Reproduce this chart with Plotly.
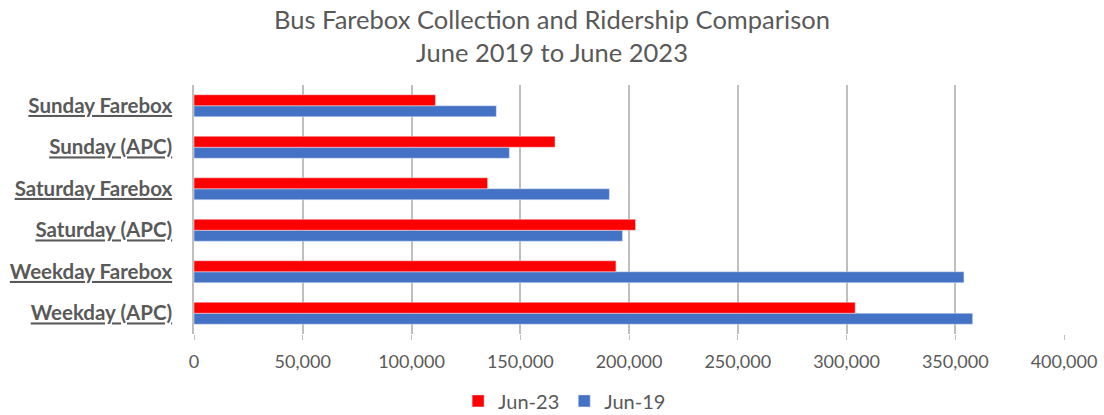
import plotly.graph_objects as go

categories = ["Weekday (APC)", "Weekday Farebox", "Saturday (APC)",
              "Saturday Farebox", "Sunday (APC)", "Sunday Farebox"]
jun23 = [304000, 194000, 203000, 135000, 166000, 111000]
jun19 = [358000, 354000, 197000, 191000, 145000, 139000]
x_ticks = [0, 50000, 100000, 150000, 200000, 250000, 300000, 350000, 400000]
x_tick_labels = ["0", "50,000", "100,000", "150,000", "200,000",
                 "250,000", "300,000", "350,000", "400,000"]

FONT = "Lato, Open Sans, sans-serif"
GRAY = "#595959"

fig = go.Figure()
fig.add_trace(go.Bar(y=categories, x=jun19, orientation="h", name="Jun-19",
                     marker=dict(color="#4472C4"), legendrank=2))
fig.add_trace(go.Bar(y=categories, x=jun23, orientation="h", name="Jun-23",
                     marker=dict(color="#FF0000"), legendrank=1))

fig.update_layout(
    width=1104, height=415,
    margin=dict(l=194, r=40, t=85, b=81, autoexpand=False),
    paper_bgcolor="white", plot_bgcolor="white",
    barmode="group", bargap=0.47, bargroupgap=0,
    font=dict(family=FONT, color=GRAY),
    title=dict(text="Bus Farebox Collection and Ridership Comparison<br>June 2019 to June 2023",
               x=0.5, xref="container", xanchor="center",
               y=0.93, yref="container", yanchor="middle",
               font=dict(family=FONT, size=25.5, color=GRAY)),
    legend=dict(orientation="h", x=0.426, xanchor="center", xref="paper",
                y=0.034, yref="container", yanchor="middle",
                font=dict(family=FONT, size=20, color=GRAY),
                itemwidth=30, traceorder="normal"),
    showlegend=True,
)
fig.update_xaxes(range=[0, 400000], tickvals=x_ticks, ticktext=x_tick_labels,
                 showgrid=True, gridcolor="#BFBFBF", gridwidth=1.5,
                 zeroline=False, showline=False, tickangle=0,
                 ticks="outside", ticklen=5, tickcolor="#BFBFBF",
                 ticklabelstandoff=6,
                 tickfont=dict(family=FONT, size=18, color=GRAY))
fig.update_yaxes(tickvals=categories,
                 ticktext=["<b><u>" + c + "</u></b>" for c in categories],
                 showline=True, linecolor="#BFBFBF", linewidth=1.5,
                 showgrid=False, ticks="", ticklabelstandoff=16,
                 tickfont=dict(family=FONT, size=20.5, color=GRAY))

fig.write_html("out.html")
